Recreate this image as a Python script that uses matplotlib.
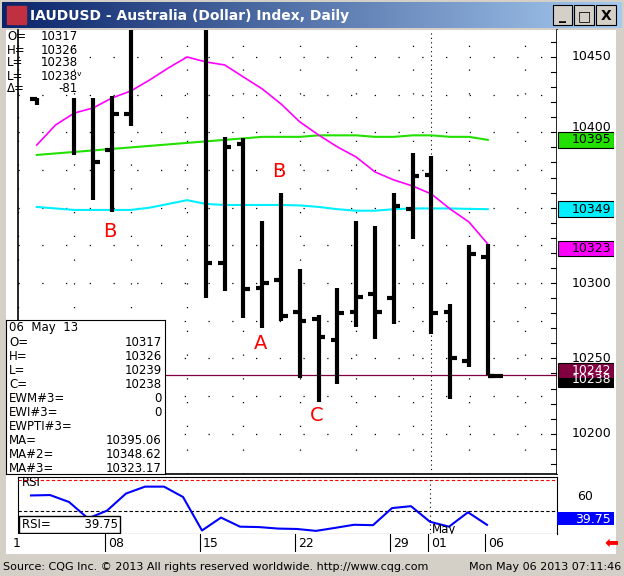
import numpy as np
import matplotlib
matplotlib.use("Agg")
import matplotlib.pyplot as plt
from matplotlib.patches import Rectangle

# daily bars, index 0 = Apr 1 2013 (trading days), nan = not shown
opens  = [np.nan, 10422, np.nan, np.nan, np.nan, 10388, 10412, 10500, 10500, 10500,
          10480, 10313, 10392, 10297, 10302, 10281, 10276, 10262, 10281, 10293,
          10290, 10349, 10372, 10281, 10248, 10317]
highs  = [np.nan, 10423, np.nan, 10423, 10423, 10424, 10490, 10520, 10520, 10520,
          10490, 10397, 10396, 10341, 10360, 10309, 10279, 10297, 10341, 10338,
          10360, 10386, 10384, 10286, 10325, 10326]
lows   = [np.nan, 10418, np.nan, 10385, 10355, 10347, 10404, 10480, 10480, 10480,
          10290, 10295, 10277, 10270, 10275, 10237, 10221, 10233, 10271, 10263,
          10273, 10329, 10266, 10223, 10244, 10239]
closes = [np.nan, np.nan, np.nan, np.nan, 10380, 10412, 10480, 10500, 10500, 10500,
          10313, 10390, 10296, 10300, 10278, 10275, 10264, 10280, 10291, 10281,
          10351, 10371, 10280, 10250, 10319, 10238]

ma1 = [np.nan, 10385, 10386, 10387, 10388, 10389, 10390, 10391, 10392, 10393, 10394,
       10395, 10396, 10397, 10397, 10397, 10398, 10398, 10398, 10397, 10397, 10398,
       10398, 10397, 10397, 10395]
ma2 = [np.nan, 10350.5, 10349.5, 10348.5, 10348.5, 10348.5, 10348.5, 10350, 10352.5,
       10355, 10352.5, 10351.8, 10351.8, 10351.8, 10351.8, 10351.5, 10350.5, 10349,
       10348, 10348, 10349, 10349.5, 10349.5, 10349.5, 10349.2, 10349]
ma3 = [np.nan, 10391.6, 10404.9, 10412.8, 10416.2, 10422.8, 10427.4, 10434.7, 10442.7,
       10450, 10446.7, 10444.7, 10436.7, 10428.8, 10418.8, 10406.9, 10398.2, 10390.3,
       10383.6, 10373.7, 10368.4, 10364.4, 10359.1, 10349.1, 10340.5, 10325.9]
rsi = [np.nan, 61.4, 61.7, 56.6, 44.5, 50.2, 62.8, 67.9, 67.9, 60.3, 35.6, 45.1, 38.4,
       38.1, 37.0, 36.7, 35.3, 37.5, 39.8, 39.5, 52.1, 53.5, 42.0, 38.4, 49.0, 39.75]

price_ticks = [10200, 10250, 10300, 10450]
price_labels = ["10200", "10250", "10300", "10450"]
date_idx = [0, 5, 10, 15, 20, 22, 25]
date_labels = ["1", "08", "15", "22", "29", "01", "06"]
marks = [("B", 4.9, 10334), ("B", 13.9, 10374), ("A", 12.9, 10260), ("C", 15.9, 10212)]

W, H = 624, 576
fig = plt.figure(figsize=(W / 100, H / 100), dpi=100)
fig.patch.set_facecolor("#d4d0c8")
FONT = "DejaVu Sans"


def px(l, t, w, h):
    return [l / W, 1 - (t + h) / H, w / W, h / H]


def bare(ax):
    ax.set_xticks([])
    ax.set_yticks([])
    for s in ax.spines.values():
        s.set_visible(False)


# title bar
tb = fig.add_axes(px(2, 2, 620, 26))
bare(tb)
grad = np.linspace(0, 1, 256)[None, :, None]
c0 = np.array([10, 36, 106]) / 255
c1 = np.array([166, 202, 240]) / 255
tb.imshow(c0 + (c1 - c0) * grad, aspect="auto", extent=[0, 1, 0, 1])
tb.text(0.045, 0.45, "IAUDUSD - Australia (Dollar) Index, Daily", color="white",
        fontsize=10, fontweight="bold", va="center", family=FONT)
tb.add_patch(Rectangle((0.008, 0.15), 0.03, 0.7, color="#c03040"))
for k, ch in enumerate(["_", "□", "X"]):
    x0 = 0.888 + k * 0.035
    tb.add_patch(Rectangle((x0, 0.12), 0.032, 0.76, facecolor="#d4d0c8", edgecolor="black", lw=0.8))
    tb.text(x0 + 0.016, 0.45, ch, ha="center", va="center", fontsize=10, fontweight="bold")
tb.set_xlim(0, 1)
tb.set_ylim(0, 1)

# white background of chart window
bg = fig.add_axes(px(6, 30, 610, 524))
bare(bg)
bg.set_facecolor("white")

x = np.arange(len(opens))
xl = ((18 - 12) / 19, (557 - 12) / 19)

# main price pane
ax = fig.add_axes(px(18, 30, 539, 444))
ax.set_facecolor("white")
ax.set_xlim(*xl)
ax.set_ylim(10173.3, 10467.9)
for s in ax.spines.values():
    s.set_linewidth(1.2)
ax.spines["top"].set_visible(False)
ax.set_xticks([i + 0.0 for i in range(0, 29, 3)])
ax.set_xticklabels([])
ax.set_yticks(np.arange(10200, 10451, 25))
ax.tick_params(length=0)
ax.grid(True, color="black", linestyle=(0, (1, 18)), lw=0.9)
ax.axvline(22, color="black", linestyle=(0, (1, 3)), lw=0.8)
ax.yaxis.tick_right()
ax.set_yticklabels([])

ax.axhline(10239, color="#800040", lw=0.9)
ax.plot(x, ma1, color="#22e000", lw=1.5)
ax.plot(x, ma2, color="#00f0ff", lw=1.5)
ax.plot(x, ma3, color="#ff00ff", lw=1.2)
ax.vlines(x, lows, highs, color="black", lw=3)
ax.hlines(opens, x - 0.35, x, color="black", lw=3)
ax.hlines(closes, x, x + 0.35, color="black", lw=3)
ax.hlines([closes[-1]], x[-1], x[-1] + 0.8, color="black", lw=3)
for t, mx, my in marks:
    ax.text(mx, my, t, color="red", fontsize=14, ha="center", va="center", family=FONT)

# readout at top left
top_txt = [("O=", "10317"), ("H=", "10326"), ("L=", "10238"), ("L=", "10238\u1d5b"), ("\u0394=", "-81")]
for k, (a, b) in enumerate(top_txt):
    yy = 1 - (37 + k * 13) / H
    fig.text(7 / W, yy, a, fontsize=8.5, va="center", family=FONT)
    fig.text(41 / W if k < 4 else 58 / W, yy, b, fontsize=8.5, va="center", family=FONT)

# lower-left box
box = fig.add_axes(px(6, 320, 159, 154))
box.set_xticks([])
box.set_yticks([])
box.set_facecolor("white")
rows = [("06  May  13", ""), ("O=", "10317"), ("H=", "10326"), ("L=", "10239"), ("C=", "10238"),
        ("EWM#3=", "0"), ("EWI#3=", "0"), ("EWPTI#3=", ""), ("MA=", "10395.06"),
        ("MA#2=", "10348.62"), ("MA#3=", "10323.17")]
for k, (a, b) in enumerate(rows):
    yy = 1 - (8 + k * 14) / 154
    box.text(0.02, yy, a, fontsize=8.5, va="center", transform=box.transAxes, family=FONT)
    box.text(0.98, yy, b, fontsize=8.5, va="center", ha="right", transform=box.transAxes, family=FONT)

# right price axis
ra = fig.add_axes(px(557, 30, 57, 444))
bare(ra)
ra.set_ylim(ax.get_ylim())
ra.set_xlim(0, 1)
for p, lab in zip(price_ticks, price_labels):
    ra.text(0.95, p, lab, ha="right", va="center", fontsize=9, family=FONT)
ra.text(0.95, 10403, "10400", ha="right", va="center", fontsize=9, family=FONT)
for p, fc, tc, val in [(10395, "#22e000", "black", "10395"), (10349, "#00f0ff", "black", "10349"),
                       (10323, "#ff00ff", "black", "10323"), (10236, "black", "white", "10238"),
                       (10242, "#800040", "white", "10242")]:
    ra.add_patch(Rectangle((0.02, p - 5.2), 0.98, 10.4, facecolor=fc, edgecolor="black", lw=0.8))
    ra.text(0.95, p, val, ha="right", va="center", fontsize=9, color=tc, family=FONT)
for p in np.arange(10180, 10470, 10):
    ax.plot([xl[1] - 0.3, xl[1]], [p, p], color="black", lw=0.8, clip_on=False)

# RSI pane
rax = fig.add_axes(px(18, 477, 539, 57))
rax.set_facecolor("white")
rax.set_xlim(*xl)
rax.set_ylim(33, 75)
rax.set_xticks([])
rax.set_yticks([])
rax.axhline(72.7, color="red", linestyle=(0, (3, 2)), lw=0.8)
rax.axhline(49.6, color="black", linestyle=(0, (3, 2)), lw=0.8)
rax.axvline(22, color="black", linestyle=(0, (1, 3)), lw=0.8)
rax.plot(x, rsi, color="#0000ff", lw=1.5)
rax.text(0.5, 71, "RSI", fontsize=8.5, va="center", family=FONT)
rax.text(22.1, 36, "May", fontsize=8.5, va="center", family=FONT)
rax.text(0.5, 40, "RSI=         39.75", fontsize=8.5, va="center", family=FONT,
         bbox=dict(facecolor="white", edgecolor="black", pad=1.5))
fig.text(585 / W, 1 - 496 / H, "60", ha="center", va="center", fontsize=9, family=FONT)
rb = fig.add_axes(px(557, 512, 57, 13))
bare(rb)
rb.set_facecolor("#0000ff")
rb.text(0.95, 0.45, "39.75", color="white", ha="right", va="center", fontsize=9,
        transform=rb.transAxes, family=FONT)

# date row
da = fig.add_axes(px(18, 534, 539, 18))
bare(da)
da.set_xlim(*xl)
da.set_ylim(0, 1)
for i, lab in zip(date_idx, date_labels):
    da.axvline(i - 0.1, color="black", lw=0.8)
    da.text(i + 0.05, 0.45, lab, fontsize=9, va="center", family=FONT)
fig.text(611 / W, 1 - 543 / H, "\u2b05", color="red", ha="center", va="center", fontsize=12, family=FONT)

# footer
fig.text(3 / W, 1 - 567 / H, "Source: CQG Inc. \u00a9 2013 All rights reserved worldwide. http://www.cqg.com",
         fontsize=8, va="center", family=FONT)
fig.text(621 / W, 1 - 567 / H, "Mon May 06 2013 07:11:46", fontsize=8, va="center", ha="right",
         family=FONT)

fig.savefig("out.png", dpi=100, facecolor=fig.get_facecolor())
